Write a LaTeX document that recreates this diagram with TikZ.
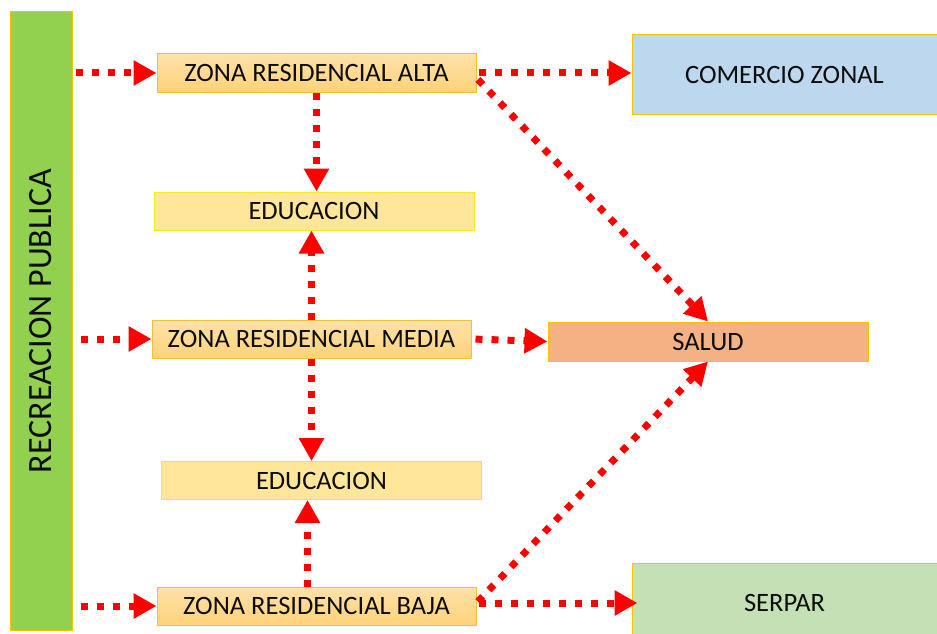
\documentclass[tikz,border=0pt]{standalone}
\usepackage{fontspec}
\setmainfont{Carlito}
\usepackage{graphicx}
\usepackage{tikz}
\usetikzlibrary{calc}
\usetikzlibrary{arrows.meta}
\usetikzlibrary{shapes}
\definecolor{verde}{HTML}{92D050}
\definecolor{oro}{HTML}{FFC000}
\definecolor{zonatop}{HTML}{FFE2A8}
\definecolor{zonabot}{HTML}{FFD27A}
\definecolor{zonaborde}{HTML}{F9BE3A}
\definecolor{eduamarillo}{HTML}{FFE699}
\definecolor{eduborde}{HTML}{F7EA1C}
\definecolor{celeste}{HTML}{BDD7EE}
\definecolor{salmon}{HTML}{F4B183}
\definecolor{verdeclaro}{HTML}{C5E0B4}
\tikzset{>={Triangle[length=23pt,width=24pt]}}
\tikzset{flecha/.style = {->, draw=red, line width=7pt, dash pattern=on 7pt off 9pt}}
\tikzset{caja/.style = {rectangle, inner sep=0, line width=1pt, text=black!95, font=\fontsize{26.5}{28}\selectfont}}
\tikzset{zona/.style = {caja, draw=zonaborde, top color=zonatop, bottom color=zonabot, minimum width=319pt, minimum height=38pt}}
\tikzset{edu/.style = {caja, draw=eduborde, fill=eduamarillo, minimum width=320pt, minimum height=38pt}}

\begin{document}
\begin{tikzpicture}[x=1pt, y=1pt]
\useasboundingbox (0,0) rectangle (937,-634);
%% barra izquierda
\node [caja, draw=oro, fill=verde, minimum width=62pt, minimum height=618pt, font=\fontsize{34}{36}\selectfont] (rec) at (41,-321) {\rotatebox{90}{RECREACION PUBLICA}};
%% zonas
\node [zona] (zra) at (316.5,-73) {ZONA RESIDENCIAL ALTA};
\node [edu] (edu1) at (314,-211) {EDUCACION};
\node [zona] (zrm) at (311.5,-339) {ZONA RESIDENCIAL MEDIA};
\node [edu] (edu2) at (321.5,-480.5) {EDUCACION};
\node [zona] (zrb) at (316.5,-606) {ZONA RESIDENCIAL BAJA};
%% destinos
\node [caja, draw=oro, fill=celeste, minimum width=305pt, minimum height=79pt] (com) at (784.5,-74.5) {COMERCIO ZONAL};
\node [caja, draw=oro, fill=salmon, minimum width=320pt, minimum height=39pt] (salud) at (708,-341.5) {SALUD};
\node [caja, draw=oro, fill=verdeclaro, minimum width=305pt, minimum height=80pt] (serpar) at (784.5,-603) {SERPAR};
%% flechas
\draw [flecha, shorten <=3pt] (rec.east |- zra) to (zra.west);
\draw [flecha, shorten <=8pt] (rec.east |- zrm) to (zrm.west);
\draw [flecha, shorten <=8pt] (rec.east |- zrb) to (zrb.west);
\draw [flecha, shorten <=2pt] (zra.east) to (com.west |- zra.east);
\draw [flecha] (zra.south) to (zra.south |- edu1.north);
\draw [flecha] (zrm.north) to (zrm.north |- edu1.south);
\draw [flecha] (zrm.south) to (zrm.south |- edu2.north);
\draw [flecha] ($(zrb.north)+(-9,0)$) to ($(zrb.north |- edu2.south)+(-9,0)$);
\draw [flecha, shorten <=4pt] (zrm.east) to (salud.west);
\draw [flecha, shorten <=2pt] ($(zra.east)+(0,-5)$) to (salud.north);
\draw [flecha, shorten <=2pt] ($(zrb.east)+(0,3)$) to (salud.south);
\draw [flecha, shorten <=2pt] ($(zrb.east)+(0,3)$) to ($(serpar.west |- zrb.east)+(6,3)$);
\end{tikzpicture}
\end{document}
